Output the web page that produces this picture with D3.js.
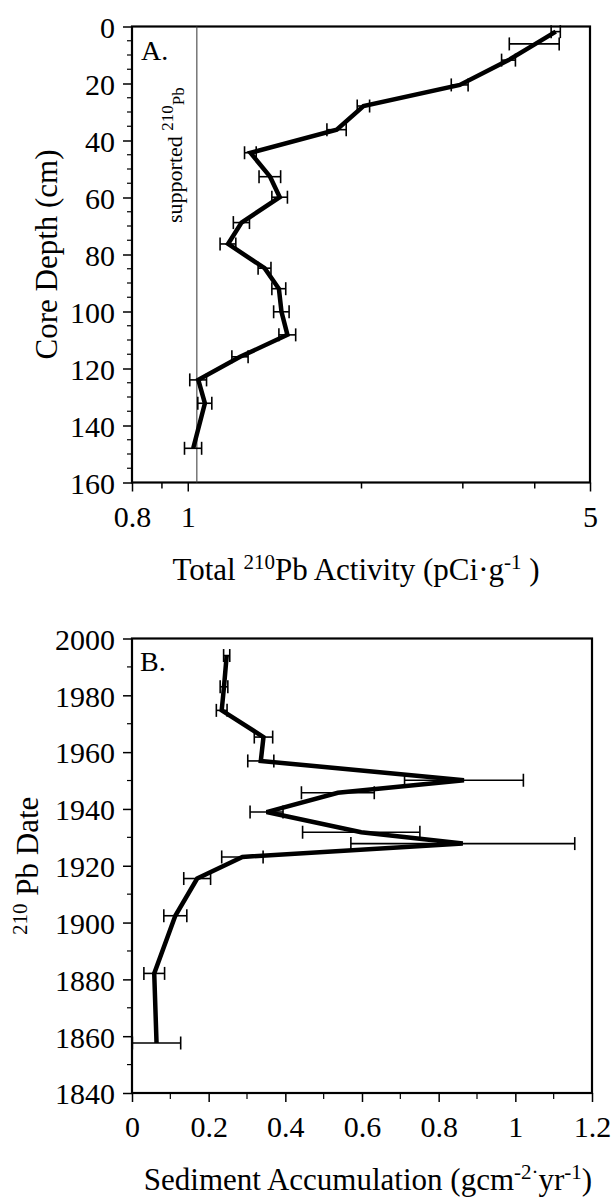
<!DOCTYPE html>
<html>
<head>
<meta charset="utf-8">
<script src="https://cdn.jsdelivr.net/npm/d3@7"></script>
<style>
  html, body { margin: 0; padding: 0; background: #fff; }
  svg { display: block; }
  text { font-family: "Liberation Serif", "Times New Roman", serif; fill: #000; }
</style>
</head>
<body>
<svg id="chart" width="613" height="1199"></svg>
<script>
// ---------- Panel A data: core depth (cm), total 210Pb activity (pCi/g), error ----------
const depthA    = [1.8, 6.1, 11.8, 20.5, 27.9, 36.2, 44.3, 52.7, 59.9, 68.8, 76.3, 84.8, 92.0, 100.1, 108.2, 115.9, 124.0, 132.2, 148.0];
const activityA = [4.36, 4.02, 3.61, 2.97, 2.02, 1.815, 1.285, 1.39, 1.445, 1.24, 1.175, 1.36, 1.44, 1.455, 1.49, 1.233, 1.043, 1.071, 1.022];
const errA      = [0.08, 0.40, 0.10, 0.10, 0.05, 0.07, 0.03, 0.06, 0.045, 0.04, 0.037, 0.035, 0.04, 0.045, 0.05, 0.04, 0.035, 0.03, 0.035];
const supportedA = 1.037;

// ---------- Panel B data: 210Pb date, sediment accumulation (g cm-2 yr-1), error ----------
const yearB  = [1994, 1983, 1974.7, 1965.3, 1956.9, 1950.1, 1945.7, 1938.9, 1931.8, 1927.8, 1923.1, 1915.5, 1902.4, 1882.1, 1857.6];
const accumB = [0.247, 0.240, 0.234, 0.343, 0.336, 0.866, 0.537, 0.351, 0.598, 0.863, 0.288, 0.170, 0.113, 0.058, 0.064];
const errB   = [0.008, 0.010, 0.014, 0.024, 0.034, 0.155, 0.095, 0.043, 0.153, 0.292, 0.054, 0.035, 0.030, 0.027, 0.063];

// ---------- Tick labels ----------
const depthTicks    = [0, 20, 40, 60, 80, 100, 120, 140, 160];
const activityTicks = [0.8, 0.9, 1, 2, 3, 4, 5];
const activityLabels = [0.8, 1, 5];
const yearTicks     = [1840, 1860, 1880, 1900, 1920, 1940, 1960, 1980, 2000];
const accumTicks    = [0, 0.2, 0.4, 0.6, 0.8, 1, 1.2];

const svg = d3.select("#chart");
const TICKFONT = 30, TITLEFONT = 31;

// ================= PANEL A =================
const A = { left: 132, right: 590, top: 26.5, bottom: 482.5 };
const xA = d3.scaleLog().domain([0.8, 5]).range([A.left, A.right]);
const yA = d3.scaleLinear().domain([0, 160]).range([A.top, A.bottom]);

const gA = svg.append("g");

// y axis
const yAxisA = d3.axisLeft(yA).tickValues(depthTicks).tickSize(9).tickPadding(8).tickFormat(d3.format("d"));
const gyA = gA.append("g").attr("transform", `translate(${A.left},0)`).call(yAxisA);
gyA.select(".domain").remove();
gyA.selectAll("line").attr("stroke", "#000").attr("stroke-width", 1.5);
gyA.selectAll("text").attr("font-size", TICKFONT).attr("font-family", "Liberation Serif").attr("dy", "0.36em");
// minor y ticks
const yMinorA = d3.range(0, 161, 5).filter(d => d % 20 !== 0);
gA.append("g").selectAll("line").data(yMinorA).join("line")
  .attr("x1", A.left - 5).attr("x2", A.left)
  .attr("y1", d => yA(d)).attr("y2", d => yA(d))
  .attr("stroke", "#000").attr("stroke-width", 1.2);

// x axis
const xAxisA = d3.axisBottom(xA).tickValues(activityTicks)
  .tickSize(9).tickPadding(14)
  .tickFormat(d => activityLabels.includes(d) ? String(d) : "");
const gxA = gA.append("g").attr("transform", `translate(0,${A.bottom})`).call(xAxisA);
gxA.select(".domain").remove();
gxA.selectAll("line").attr("stroke", "#000").attr("stroke-width", 1.5)
  .attr("y2", d => activityLabels.includes(d) ? 9 : 6);
gxA.selectAll("text").attr("font-size", TICKFONT).attr("font-family", "Liberation Serif");

// frame
gA.append("rect").attr("x", A.left).attr("y", A.top)
  .attr("width", A.right - A.left).attr("height", A.bottom - A.top)
  .attr("fill", "none").attr("stroke", "#000").attr("stroke-width", 2.2);

// supported line
gA.append("line")
  .attr("x1", xA(supportedA)).attr("x2", xA(supportedA))
  .attr("y1", A.top).attr("y2", A.bottom)
  .attr("stroke", "#444").attr("stroke-width", 1.1);

// supported label (rotated)
const supT = gA.append("text")
  .attr("transform", `translate(182,223) rotate(-90)`)
  .attr("font-size", 22);
supT.append("tspan").text("supported ");
supT.append("tspan").attr("font-size", 17).attr("dy", -9).text("210");
supT.append("tspan").attr("font-size", 17).attr("dy", 11).text("Pb");

// error bars A
const rowsA = depthA.map((d, i) => ({ d, v: activityA[i], e: errA[i] }));
const ebA = gA.append("g").attr("stroke", "#000").attr("stroke-width", 1.6).attr("fill", "none");
ebA.selectAll("line.h").data(rowsA).join("line").attr("class", "h")
  .attr("x1", r => xA(r.v - r.e)).attr("x2", r => xA(r.v + r.e))
  .attr("y1", r => yA(r.d)).attr("y2", r => yA(r.d));
ebA.selectAll("line.cl").data(rowsA).join("line").attr("class", "cl")
  .attr("x1", r => xA(r.v - r.e)).attr("x2", r => xA(r.v - r.e))
  .attr("y1", r => yA(r.d) - 6.5).attr("y2", r => yA(r.d) + 6.5);
ebA.selectAll("line.cr").data(rowsA).join("line").attr("class", "cr")
  .attr("x1", r => xA(r.v + r.e)).attr("x2", r => xA(r.v + r.e))
  .attr("y1", r => yA(r.d) - 6.5).attr("y2", r => yA(r.d) + 6.5);

// line A
gA.append("path").datum(rowsA)
  .attr("fill", "none").attr("stroke", "#000").attr("stroke-width", 4.5)
  .attr("stroke-linejoin", "miter")
  .attr("d", d3.line().x(r => xA(r.v)).y(r => yA(r.d)));

// labels A
gA.append("text").attr("x", 141).attr("y", 60).attr("font-size", 28).text("A.");
gA.append("text")
  .attr("transform", `translate(57,${(A.top + A.bottom) / 2}) rotate(-90)`)
  .attr("text-anchor", "middle").attr("font-size", TITLEFONT).text("Core Depth (cm)");
const xtA = gA.append("text").attr("x", 356).attr("y", 580).attr("text-anchor", "middle").attr("font-size", TITLEFONT);
xtA.append("tspan").text("Total ");
xtA.append("tspan").attr("font-size", 21).attr("dy", -11).text("210");
xtA.append("tspan").attr("dy", 11).text("Pb Activity (pCi·g");
xtA.append("tspan").attr("font-size", 21).attr("dy", -11).text("-1");
xtA.append("tspan").attr("dy", 11).text(" )");

// ================= PANEL B =================
const B = { left: 132, right: 592, top: 638.5, bottom: 1093 };
const xB = d3.scaleLinear().domain([0, 1.2]).range([B.left, B.right]);
const yB = d3.scaleLinear().domain([1840, 2000]).range([B.bottom, B.top]);
const gB = svg.append("g");

const yAxisB = d3.axisLeft(yB).tickValues(yearTicks).tickSize(9).tickPadding(8).tickFormat(d3.format("d"));
const gyB = gB.append("g").attr("transform", `translate(${B.left},0)`).call(yAxisB);
gyB.select(".domain").remove();
gyB.selectAll("line").attr("stroke", "#000").attr("stroke-width", 1.5);
gyB.selectAll("text").attr("font-size", TICKFONT).attr("font-family", "Liberation Serif").attr("dy", "0.36em");
const yMinorB = d3.range(1850, 2000, 20);
gB.append("g").selectAll("line").data(yMinorB).join("line")
  .attr("x1", B.left - 5).attr("x2", B.left)
  .attr("y1", d => yB(d)).attr("y2", d => yB(d))
  .attr("stroke", "#000").attr("stroke-width", 1.2);

const xAxisB = d3.axisBottom(xB).tickValues(accumTicks).tickSize(9).tickPadding(14)
  .tickFormat(d => String(d));
const gxB = gB.append("g").attr("transform", `translate(0,${B.bottom})`).call(xAxisB);
gxB.select(".domain").remove();
gxB.selectAll("line").attr("stroke", "#000").attr("stroke-width", 1.5);
gxB.selectAll("text").attr("font-size", TICKFONT).attr("font-family", "Liberation Serif");
const xMinorB = d3.range(0.1, 1.2, 0.2);
gB.append("g").selectAll("line").data(xMinorB).join("line")
  .attr("x1", d => xB(d)).attr("x2", d => xB(d))
  .attr("y1", B.bottom).attr("y2", B.bottom + 6)
  .attr("stroke", "#000").attr("stroke-width", 1.2);

gB.append("rect").attr("x", B.left).attr("y", B.top)
  .attr("width", B.right - B.left).attr("height", B.bottom - B.top)
  .attr("fill", "none").attr("stroke", "#000").attr("stroke-width", 2.2);

const rowsB = yearB.map((y, i) => ({ y, v: accumB[i], e: errB[i] }));
const ebB = gB.append("g").attr("stroke", "#000").attr("stroke-width", 1.6).attr("fill", "none");
ebB.selectAll("line.h").data(rowsB).join("line").attr("class", "h")
  .attr("x1", r => xB(Math.max(0, r.v - r.e))).attr("x2", r => xB(r.v + r.e))
  .attr("y1", r => yB(r.y)).attr("y2", r => yB(r.y));
ebB.selectAll("line.cl").data(rowsB).join("line").attr("class", "cl")
  .attr("x1", r => xB(Math.max(0, r.v - r.e))).attr("x2", r => xB(Math.max(0, r.v - r.e)))
  .attr("y1", r => yB(r.y) - 6.5).attr("y2", r => yB(r.y) + 6.5);
ebB.selectAll("line.cr").data(rowsB).join("line").attr("class", "cr")
  .attr("x1", r => xB(r.v + r.e)).attr("x2", r => xB(r.v + r.e))
  .attr("y1", r => yB(r.y) - 6.5).attr("y2", r => yB(r.y) + 6.5);

gB.append("path").datum(rowsB)
  .attr("fill", "none").attr("stroke", "#000").attr("stroke-width", 4.5)
  .attr("stroke-linejoin", "miter")
  .attr("d", d3.line().x(r => xB(r.v)).y(r => yB(r.y)));

gB.append("text").attr("x", 140).attr("y", 671).attr("font-size", 28).text("B.");
const ytB = gB.append("text")
  .attr("transform", `translate(38,${(B.top + B.bottom) / 2}) rotate(-90)`)
  .attr("text-anchor", "middle").attr("font-size", TITLEFONT);
ytB.append("tspan").attr("font-size", 21).attr("dy", -11).text("210");
ytB.append("tspan").attr("dy", 11).text(" Pb Date");

const xtB = gB.append("text").attr("x", 368).attr("y", 1190).attr("text-anchor", "middle").attr("font-size", TITLEFONT);
xtB.append("tspan").text("Sediment Accumulation (gcm");
xtB.append("tspan").attr("font-size", 21).attr("dy", -11).text("-2·");
xtB.append("tspan").attr("dy", 11).text("yr");
xtB.append("tspan").attr("font-size", 21).attr("dy", -11).text("-1");
xtB.append("tspan").attr("dy", 11).text(")");
</script>
</body>
</html>
